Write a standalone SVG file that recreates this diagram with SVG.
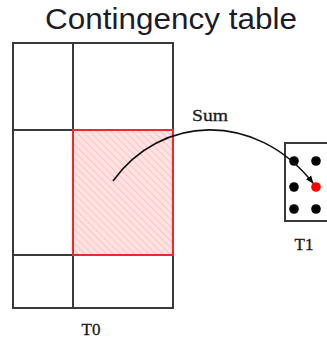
<svg xmlns="http://www.w3.org/2000/svg" width="327" height="343" viewBox="0 0 327 343">
<style>
.grid{fill:none;stroke:#3a3a3a;stroke-width:2}
.lbl{font-family:"Liberation Serif",serif;font-size:17px;fill:#1a1a1a;text-anchor:middle;stroke:#1a1a1a;stroke-width:0.3}
.dot{fill:#000}
</style>
<defs>
<pattern id="hatch" width="5" height="5" patternUnits="userSpaceOnUse" patternTransform="rotate(-45)">
<rect width="5" height="5" fill="#ffe2e2"/>
<line x1="0" y1="0" x2="0" y2="5" stroke="#ffc2c2" stroke-width="2"/>
</pattern>
<marker id="arr" viewBox="0 0 10 10" refX="9" refY="5" markerWidth="5" markerHeight="5" orient="auto">
<path d="M0,1 L10,5 L0,9 z" fill="#000"/>
</marker>
</defs>
<text x="171" y="29" font-family="Liberation Sans, sans-serif" font-size="30" fill="#1c1c28" text-anchor="middle" textLength="252" lengthAdjust="spacingAndGlyphs">Contingency table</text>
<g id="T0">
<rect x="73" y="130" width="100" height="125" fill="url(#hatch)"/>
<rect class="grid" x="13" y="43" width="160" height="265"/>
<line class="grid" x1="73" y1="43" x2="73" y2="308"/>
<line class="grid" x1="13" y1="130" x2="173" y2="130"/>
<line class="grid" x1="13" y1="255" x2="173" y2="255"/>
<rect x="73" y="130" width="100" height="125" fill="none" stroke="#ff2a2a" stroke-width="1.8"/>
<text class="lbl" x="91" y="335">T0</text>
</g>
<g id="T1">
<rect class="grid" x="285" y="143" width="50" height="78"/>
<circle class="dot" cx="294" cy="161" r="4.8"/>
<circle class="dot" cx="316" cy="161" r="4.8"/>
<circle class="dot" cx="294" cy="187" r="4.8"/>
<circle cx="316" cy="187" r="4.8" fill="#ff0000"/>
<circle class="dot" cx="294" cy="209" r="4.8"/>
<circle class="dot" cx="316" cy="209" r="4.8"/>
<text class="lbl" x="304" y="250">T1</text>
</g>
<g id="connectors">
<path d="M113,181 C160,115 255,110 313,183" fill="none" stroke="#111" stroke-width="1.6" marker-end="url(#arr)"/>
<text class="lbl" x="210" y="121" textLength="36" lengthAdjust="spacingAndGlyphs">Sum</text>
</g>
</svg>
